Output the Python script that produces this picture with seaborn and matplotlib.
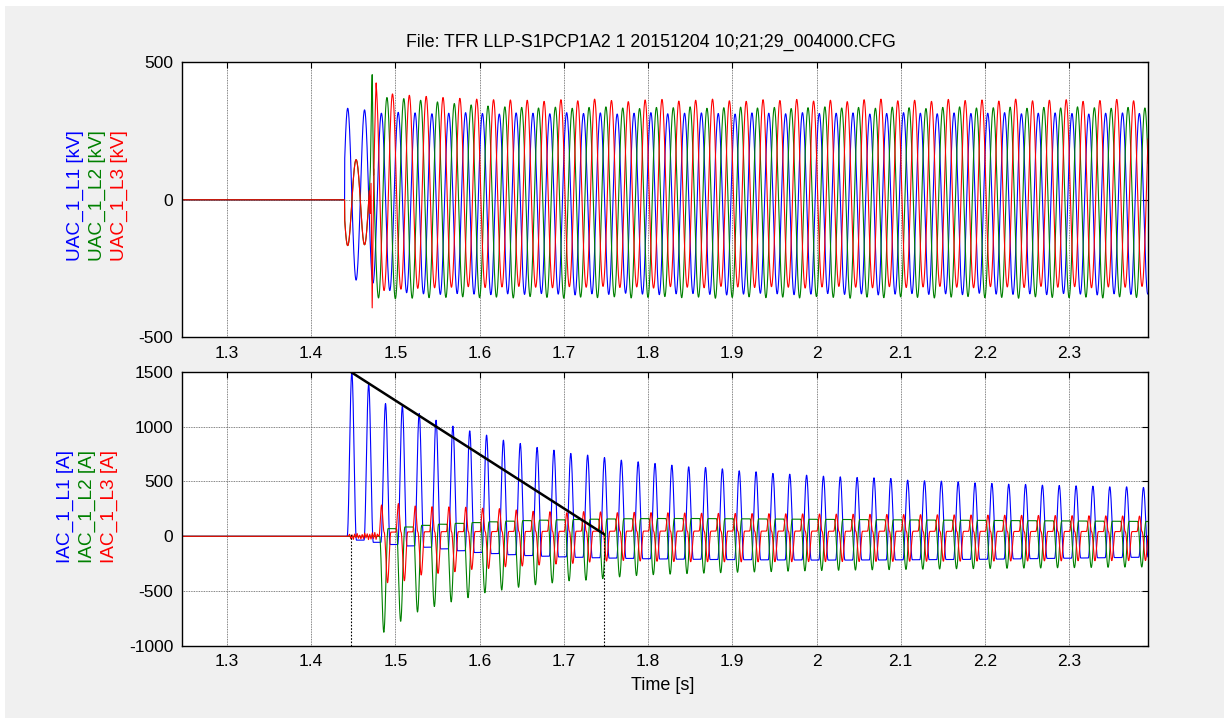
import numpy as np
import pandas as pd
import matplotlib
matplotlib.use("Agg")
import matplotlib.pyplot as plt
import seaborn as sns
from matplotlib.patches import Rectangle

sns.set_theme(style="white")
plt.rcParams["font.family"] = ["Liberation Sans", "DejaVu Sans"]

# ---------------------------------------------------------------- labels
TITLE = "File: TFR LLP-S1PCP1A2 1 20151204 10;21;29_004000.CFG"
V_LABELS = ["UAC_1_L1 [kV]", "UAC_1_L2 [kV]", "UAC_1_L3 [kV]"]
I_LABELS = ["IAC_1_L1 [A]", "IAC_1_L2 [A]", "IAC_1_L3 [A]"]
PHASE_COLORS = ["#0000ff", "#008000", "#ff0000"]
X_LABEL = "Time [s]"

X_TICKS = [1.3, 1.4, 1.5, 1.6, 1.7, 1.8, 1.9, 2.0, 2.1, 2.2, 2.3]
X_TICK_LABELS = ["1.3", "1.4", "1.5", "1.6", "1.7", "1.8", "1.9", "2", "2.1", "2.2", "2.3"]
V_TICKS = [-500, 0, 500]
I_TICKS = [-1000, -500, 0, 500, 1000, 1500]
T_START, T_END = 1.2462, 2.3936
V_LIM = (-500, 500)
I_LIM = (-1000, 1500)

PERIOD = 0.02          # 50 Hz system
SAMPLE = 1e-4          # 10 kHz record

# ---------------------------------------------------------------- voltages [kV]
V_CLOSE_L1 = 1.4396    # L1 pole closes
V_CLOSE_L23 = 1.4690   # L2 / L3 poles close
V_CREST_L1 = 1.4433    # first L1 crest
V_CREST_L2 = 1.4699    # first L2 crest after closing
V_CREST_L3 = 1.4765    # first L3 crest after closing
V_INDUCED = -0.5       # open-pole voltage relative to L1

# crest / trough per cycle
V1_POS = [333, 327, 315, 318, 316, 313, 315, 317, 314, 312, 316, 315, 313, 317, 314, 316,
          312, 315, 317, 313, 315, 316, 314, 312, 316, 315, 313, 317, 314, 315, 316, 312,
          314, 317, 315, 313, 316, 314, 315, 317, 313, 315, 316, 314, 312, 315, 316, 314]
V1_NEG = [-292, -303, -330, -338, -342, -344, -341, -343, -345, -342, -344, -341, -343, -346,
          -342, -344, -340, -343, -345, -342, -341, -344, -346, -343, -340, -342, -345, -343,
          -341, -344, -342, -346, -343, -341, -344, -342, -345, -340, -343, -344, -342, -345,
          -341, -343, -346, -342, -344, -343]
V2_POS = [455, 372, 368, 362, 356, 350, 345, 341, 338, 336, 334, 337, 333, 336, 338, 334,
          332, 336, 335, 338, 333, 335, 337, 334, 336, 332, 335, 338, 334, 336, 333, 337,
          335, 332, 336, 338, 334, 335, 337, 333, 336, 334, 338, 335, 333, 336, 334, 335]
V2_NEG = [-357, -360, -358, -356, -355, -353, -356, -354, -357, -352, -355, -358, -354, -356,
          -353, -357, -355, -352, -356, -354, -358, -355, -353, -356, -354, -357, -352, -355,
          -358, -354, -356, -353, -355, -357, -354, -352, -356, -355, -358, -353, -355, -356,
          -354, -357, -353, -355, -356, -354]
V3_POS = [425, 385, 380, 376, 372, 369, 366, 364, 363, 362, 358, 364, 360, 366, 361, 357,
          363, 365, 359, 362, 366, 360, 358, 364, 361, 365, 359, 362, 357, 364, 366, 360,
          362, 358, 365, 361, 363, 359, 366, 360, 362, 364, 358, 361, 365, 360, 362, 363]
V3_NEG = [-330, -325, -322, -320, -318, -316, -319, -317, -315, -318, -320, -316, -318, -315,
          -319, -317, -321, -316, -318, -320, -315, -317, -319, -316, -318, -321, -317, -315,
          -318, -320, -316, -319, -317, -315, -318, -320, -316, -317, -319, -315, -318, -316,
          -320, -317, -318, -315, -319, -317]

# closing transients of the L2 / L3 poles
V2_TR_T = [1.4690, 1.4703, 1.4716, 1.4724, 1.4732, 1.4740]
V2_TR_V = [20, 120, 380, 455, 250, 90]
V3_TR_T = [1.4690, 1.4700, 1.4710, 1.4718, 1.4724, 1.4732, 1.4745, 1.4760, 1.4771]
V3_TR_V = [30, -50, 60, -200, -393, -150, 120, 330, 425]

# ---------------------------------------------------------------- inrush currents [A]
I_PEAK_L1 = 1.4482     # first L1 inrush peak
I1_HALF_WIDTH = 0.0055
I2_OFFSET, I2_HALF_WIDTH = -0.0020, 0.0050
I3_POS_OFFSET, I3_POS_HALF_WIDTH = -0.0047, 0.0030
I3_NEG_OFFSET, I3_NEG_HALF_WIDTH = 0.0024, 0.0040
I23_FIRST_CYCLE = 2

I1_PEAK = [1495, 1386, 1210, 1186, 1119, 1058, 1004, 961, 922, 876, 846, 810, 785, 755, 740, 718,
           694, 679, 664, 648, 633, 627, 615, 597, 588, 573, 566, 557, 548, 542, 536, 533,
           527, 512, 506, 503, 497, 487, 482, 475, 473, 466, 463, 460, 457, 451, 451, 445]
I1_BASE = [-35, -55, -75, -88, -100, -115, -132, -148, -158, -168, -176, -182, -188, -192, -196,
           -199, -202, -205, -207, -209, -210, -212, -213, -214, -215, -216, -216, -217, -217,
           -217, -216, -216, -215, -214, -213, -212, -211, -210, -208, -206, -204, -202, -200,
           -198, -196, -194, -192, -190]
I2_TROUGH = [-875, -775, -690, -640, -598, -560, -515, -490, -465, -442, -425, -406, -400, -386,
             -370, -358, -350, -345, -340, -336, -332, -328, -325, -322, -318, -315, -312, -310,
             -308, -306, -304, -302, -300, -298, -296, -295, -293, -292, -290, -289, -287, -286,
             -284, -283, -281, -280]
I2_PLATEAU = [70, 85, 100, 110, 118, 125, 132, 138, 143, 147, 150, 153, 156, 158, 160, 161, 162,
              162, 162, 161, 160, 159, 158, 157, 156, 155, 154, 153, 152, 151, 150, 149, 148,
              147, 146, 145, 144, 143, 142, 141, 140, 139, 138, 137, 136, 135]
I3_PEAK = [285, 298, 276, 270, 268, 265, 256, 252, 240, 228, 224, 215, 225, 222, 215, 218, 216,
           214, 212, 210, 209, 208, 207, 206, 205, 204, 203, 202, 201, 200, 199, 198, 197, 196,
           195, 194, 193, 192, 191, 190, 189, 188, 187, 186, 185, 184]
I3_TROUGH = [-423, -405, -353, -338, -323, -302, -293, -278, -271, -262, -253, -247, -235, -226,
             -220, -225, -228, -230, -232, -232, -233, -233, -233, -232, -232, -231, -231, -230,
             -230, -229, -229, -228, -228, -227, -227, -226, -226, -225, -225, -224, -224, -223,
             -223, -222, -222, -221]
I3_PLATEAU = [38, 40, 41, 42, 42, 43, 43, 44, 44, 45, 45, 46, 46, 46, 47, 47, 47, 47, 47, 47,
              47, 47, 47, 47, 47, 47, 46, 46, 46, 46, 46, 46, 45, 45, 45, 45, 45, 44, 44, 44,
              44, 44, 43, 43, 43, 43]

# L3 chatter before its first pulse
I3_EARLY_T = [1.4440, 1.4455, 1.4470, 1.4485, 1.4500, 1.4515, 1.4530, 1.4545, 1.4560, 1.4575,
              1.4590, 1.4605, 1.4620, 1.4635, 1.4650, 1.4665, 1.4680, 1.4695, 1.4710, 1.4725,
              1.4740, 1.4755, 1.4770, 1.4785, 1.4800]
I3_EARLY_V = [0, 18, -22, 12, -28, 20, -12, 25, -18, 10, -24, 16, -20, 28, -15, 22, -30, 18,
              -25, 30, -20, 35, -28, 20, 0]

# decay guide and cursors
GUIDE_T = [1.4476, 1.7476]
GUIDE_I = [1495, 20]
CURSOR_T = [1.4476, 1.7476]
CURSOR_TOP = [25, 20]


# ---------------------------------------------------------------- waveform helpers
def ac_wave(t, t_crest, pos, neg):
    """Sinusoid whose crest and trough heights follow the per-cycle lists."""
    pos, neg = np.asarray(pos, float), np.asarray(neg, float)
    x = (t - t_crest) / PERIOD
    c = np.cos(2 * np.pi * x)
    ip = np.clip(np.round(x).astype(int), 0, len(pos) - 1)
    ineg = np.clip(np.floor(x).astype(int), 0, len(neg) - 1)
    return np.where(c >= 0, pos[ip] * c, -neg[ineg] * c)


def lobes(t, centers, half_width):
    idx = np.clip(np.round((t - centers[0]) / PERIOD).astype(int), 0, len(centers) - 1)
    x = (t - centers[idx]) / half_width
    w = np.where(np.abs(x) < 1, np.cos(np.pi * x / 2) ** 2, 0.0)
    return idx, w


def level_after(t, centers, levels):
    levels = np.asarray(levels, float)
    j = np.floor((t - centers[0]) / PERIOD).astype(int)
    return np.where(j < 0, 0.0, levels[np.clip(j, 0, len(levels) - 1)])


t = np.arange(T_START, T_END, SAMPLE)

# voltages
v1 = np.where(t >= V_CLOSE_L1, ac_wave(t, V_CREST_L1, V1_POS, V1_NEG), 0.0)


def closing_phase(t_crest, pos, neg, tr_t, tr_v):
    v = ac_wave(t, t_crest, pos, neg)
    v = np.where(t < V_CLOSE_L23, V_INDUCED * v1, v)
    in_tr = (t >= tr_t[0]) & (t <= tr_t[-1])
    v = np.where(in_tr, np.interp(t, tr_t, tr_v), v)
    return np.where(t >= V_CLOSE_L1, v, 0.0)


v2 = closing_phase(V_CREST_L2, V2_POS, V2_NEG, V2_TR_T, V2_TR_V)
v3 = closing_phase(V_CREST_L3, V3_POS, V3_NEG, V3_TR_T, V3_TR_V)

# currents
tb = I_PEAK_L1 + PERIOD * np.arange(len(I1_PEAK))
base = level_after(t, tb, I1_BASE)
k, w = lobes(t, tb, I1_HALF_WIDTH)
i1 = base + w * (np.asarray(I1_PEAK, float)[k] - base)

tg = tb[I23_FIRST_CYCLE:] + I2_OFFSET
base = level_after(t, tg, I2_PLATEAU)
k, w = lobes(t, tg, I2_HALF_WIDTH)
i2 = base + w * (np.asarray(I2_TROUGH, float)[k] - base)

tp = tb[I23_FIRST_CYCLE:] + I3_POS_OFFSET
tn = tb[I23_FIRST_CYCLE:] + I3_NEG_OFFSET
base = level_after(t, tp, I3_PLATEAU)
kp, wp = lobes(t, tp, I3_POS_HALF_WIDTH)
kn, wn = lobes(t, tn, I3_NEG_HALF_WIDTH)
i3 = (base + wp * (np.asarray(I3_PEAK, float)[kp] - base)
      + wn * (np.asarray(I3_TROUGH, float)[kn] - base))
early = (t >= I3_EARLY_T[0]) & (t <= I3_EARLY_T[-1])
i3 = np.where(early, i3 + np.interp(t, I3_EARLY_T, I3_EARLY_V), i3)

df_v = pd.DataFrame({"t": np.tile(t, 3), "value": np.concatenate([v1, v2, v3]),
                     "phase": np.repeat(V_LABELS, len(t))})
df_i = pd.DataFrame({"t": np.tile(t, 3), "value": np.concatenate([i1, i2, i3]),
                     "phase": np.repeat(I_LABELS, len(t))})

# ---------------------------------------------------------------- figure
W, H = 1224, 718
fig = plt.figure(figsize=(W / 100, H / 100), dpi=100, facecolor="#f0f0f0")
# thin white margin along the top and left edges of the window
fig.add_artist(Rectangle((0, 1 - 6 / H), 1, 6 / H, transform=fig.transFigure,
                         facecolor="white", edgecolor="none", zorder=-5))
fig.add_artist(Rectangle((0, 0), 5 / W, 1, transform=fig.transFigure,
                         facecolor="white", edgecolor="none", zorder=-5))

left, right = 181.7 / W, 1148 / W
ax_v = fig.add_axes([left, 1 - 337.3 / H, right - left, (337.3 - 62.3) / H])
ax_i = fig.add_axes([left, 1 - 646 / H, right - left, (646 - 371.7) / H])

sns.lineplot(data=df_v, x="t", y="value", hue="phase", hue_order=V_LABELS,
             palette=dict(zip(V_LABELS, PHASE_COLORS)), estimator=None, sort=False,
             legend=False, linewidth=0.8, ax=ax_v)
sns.lineplot(data=df_i, x="t", y="value", hue="phase", hue_order=I_LABELS,
             palette=dict(zip(I_LABELS, PHASE_COLORS)), estimator=None, sort=False,
             legend=False, linewidth=0.8, ax=ax_i)

sns.lineplot(x=GUIDE_T, y=GUIDE_I, color="black", linewidth=1.8, ax=ax_i)
ax_i.vlines(CURSOR_T, I_LIM[0], CURSOR_TOP, colors="black", linestyles=(0, (1.5, 1.5)),
            linewidth=0.8)

for ax, yt, ylim in ((ax_v, V_TICKS, V_LIM), (ax_i, I_TICKS, I_LIM)):
    ax.set_facecolor("white")
    ax.set_xlim(T_START, T_END)
    ax.set_ylim(*ylim)
    ax.set_xticks(X_TICKS)
    ax.set_xticklabels(X_TICK_LABELS)
    ax.set_yticks(yt)
    ax.set_yticklabels([str(v) for v in yt])
    ax.set_xlabel("")
    ax.set_ylabel("")
    ax.set_axisbelow(True)
    ax.grid(True, color="#5a5a5a", linestyle=(0, (1, 1)), linewidth=0.6)
    ax.tick_params(direction="in", length=4, width=0.8, top=True, right=True,
                   labelsize=12.5, pad=6, colors="black", labelcolor="black")
    for s in ax.spines.values():
        s.set_color("black")
        s.set_linewidth(1.0)

fig.text(651 / W, 1 - 46.7 / H, TITLE, ha="center", va="baseline", fontsize=12.8,
         color="black")
fig.text(663 / W, 1 - 690.5 / H, X_LABEL, ha="center", va="baseline", fontsize=13,
         color="black")

for xs, yc, labels in (((75, 97, 119), 196, V_LABELS), ((65, 87, 109), 506.5, I_LABELS)):
    for x, lab, col in zip(xs, labels, PHASE_COLORS):
        fig.text(x / W, 1 - yc / H, lab, rotation=90, ha="center", va="center",
                 fontsize=13.7, color=col)

fig.savefig("out.png", dpi=100, facecolor=fig.get_facecolor())
